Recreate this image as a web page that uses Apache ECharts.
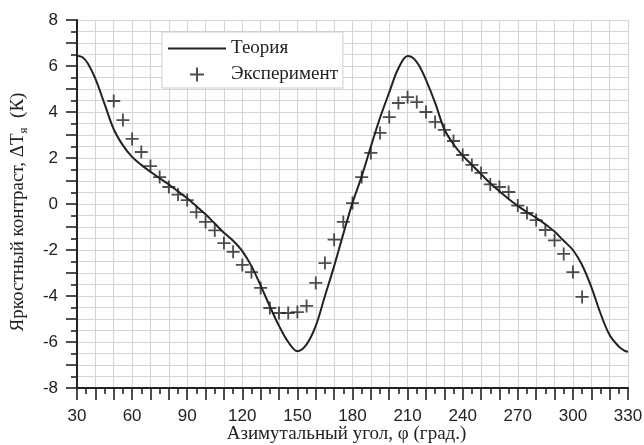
<!DOCTYPE html>
<html>
<head>
<meta charset="utf-8">
<script src="https://cdn.jsdelivr.net/npm/echarts@6/dist/echarts.min.js"></script>
<style>
html,body{margin:0;padding:0;background:#fff;}
#chart{width:644px;height:445px;}
</style>
</head>
<body>
<div id="chart"></div>
<script>
// Theory curve (angle, deg) and values (K)
const theoryAngles = [30,33,36,40,45,50,55,60,65,70,75,80,85,90,95,100,105,110,115,120,125,130,135,140,145,150,155,160,165,170,175,180,185,190,195,200,205,210,213,216,220,225,230,235,240,245,250,255,260,265,270,275,280,285,290,295,300,305,310,315,320,325,328,330];
const theoryValues = [6.45,6.38,6.1,5.45,4.35,3.25,2.55,2.05,1.7,1.4,1.12,0.85,0.55,0.25,-0.1,-0.45,-0.85,-1.25,-1.6,-2.05,-2.7,-3.55,-4.45,-5.3,-6.0,-6.4,-6.1,-5.3,-4.0,-2.7,-1.3,0.05,1.2,2.5,3.75,4.85,5.9,6.43,6.35,6.05,5.4,4.4,3.25,2.6,2.1,1.7,1.3,0.9,0.55,0.22,-0.08,-0.35,-0.6,-0.88,-1.2,-1.6,-2.0,-2.65,-3.6,-4.75,-5.7,-6.2,-6.37,-6.42];

// Experiment points
const expAngles = [50,55,60,65,70,75,80,85,90,95,100,105,110,115,120,125,130,135,140,145,150,155,160,165,170,175,180,185,190,195,200,205,210,215,220,225,230,235,240,245,250,255,260,265,270,275,280,285,290,295,300,305];
const expValues = [4.48,3.65,2.83,2.26,1.65,1.17,0.74,0.41,0.17,-0.35,-0.78,-1.15,-1.7,-2.08,-2.65,-2.96,-3.65,-4.52,-4.74,-4.74,-4.7,-4.43,-3.43,-2.57,-1.55,-0.78,0.04,1.17,2.22,3.09,3.78,4.39,4.65,4.43,4.0,3.57,3.22,2.74,2.13,1.7,1.35,0.85,0.74,0.52,-0.07,-0.39,-0.7,-1.13,-1.58,-2.17,-2.96,-4.04];

const seriesNames = ['Теория', 'Эксперимент'];
const xTitle = 'Азимутальный угол, φ (град.)';
const yTitleMain = 'Яркостный контраст, ΔT';
const yTitleSub = 'я';
const yTitleEnd = '  (К)';

const plusPath = 'path://M5.15,0H6.85V5.15H12V6.85H6.85V12H5.15V6.85H0V5.15H5.15Z';

const theoryData = theoryAngles.map((a, i) => [a, theoryValues[i]]);
const expData = expAngles.map((a, i) => [a, expValues[i]]);

const ink = '#222';
const gridCol = '#d4d4d4';
const serif = 'Liberation Serif';
const sans = 'Liberation Sans';

const chart = echarts.init(document.getElementById('chart'), null, {renderer: 'canvas'});
chart.setOption({
  animation: false,
  backgroundColor: '#fff',
  grid: {left: 77, right: 16, top: 20, bottom: 57, containLabel: false, outerBoundsMode: 'none'},
  legend: {
    orient: 'vertical',
    left: 162, top: 32,
    padding: [7, 5, 4, 5],
    itemWidth: 58, itemHeight: 14, itemGap: 7,
    backgroundColor: '#fff',
    borderColor: '#cfcfcf', borderWidth: 1,
    textStyle: {fontFamily: serif, fontSize: 19, color: ink},
    data: [
      {name: seriesNames[0], itemStyle: {opacity: 0}},
      {name: seriesNames[1]}
    ]
  },
  xAxis: {
    type: 'value', min: 30, max: 330, interval: 10,
    name: xTitle, nameLocation: 'middle', nameGap: 37, nameMoveOverlap: false,
    nameTextStyle: {fontFamily: serif, fontSize: 19, color: ink, padding: [0, 12, 0, 0]},
    axisLine: {show: true, onZero: false, lineStyle: {color: ink, width: 2}},
    axisTick: {show: true, length: 12, lineStyle: {color: ink, width: 1.6}},
    minorTick: {show: true, splitNumber: 2, length: 6, lineStyle: {color: ink, width: 1.6}},
    axisLabel: {
      margin: 20, fontFamily: sans, fontSize: 17, color: ink,
      formatter: v => (v % 30 === 0 ? String(v) : '')
    },
    splitLine: {show: true, lineStyle: {color: gridCol, width: 1}},
    minorSplitLine: {show: false}
  },
  yAxis: {
    type: 'value', min: -8, max: 8, interval: 1,
    name: '{a|' + yTitleMain + '}{s|' + yTitleSub + '}{a|' + yTitleEnd + '}',
    nameLocation: 'middle', nameGap: 47, nameRotate: 90, nameMoveOverlap: false,
    nameTextStyle: {
      padding: [0, 16, 0, 0],
      rich: {
        a: {fontFamily: serif, fontSize: 19, color: ink, lineHeight: 24},
        s: {fontFamily: serif, fontSize: 13, color: ink, lineHeight: 24, verticalAlign: 'bottom', padding: [10, 0, 0, 0]}
      }
    },
    axisLine: {show: true, onZero: false, lineStyle: {color: ink, width: 2}},
    axisTick: {show: true, length: 11, lineStyle: {color: ink, width: 1.6}},
    minorTick: {show: true, splitNumber: 2, length: 6, lineStyle: {color: ink, width: 1.6}},
    axisLabel: {
      margin: 19, fontFamily: sans, fontSize: 17, color: ink,
      formatter: v => (v % 2 === 0 ? String(v) : '')
    },
    splitLine: {show: true, lineStyle: {color: gridCol, width: 1}},
    minorSplitLine: {show: true, lineStyle: {color: gridCol, width: 1}}
  },
  series: [
    {
      name: seriesNames[0], type: 'line', data: theoryData,
      smooth: 0.35, symbol: 'none',
      lineStyle: {color: ink, width: 2},
      itemStyle: {color: ink}, z: 3
    },
    {
      name: seriesNames[1], type: 'scatter', data: expData,
      symbol: plusPath, symbolSize: 13, symbolKeepAspect: true,
      itemStyle: {color: ink}, z: 4
    }
  ]
});
</script>
</body>
</html>
